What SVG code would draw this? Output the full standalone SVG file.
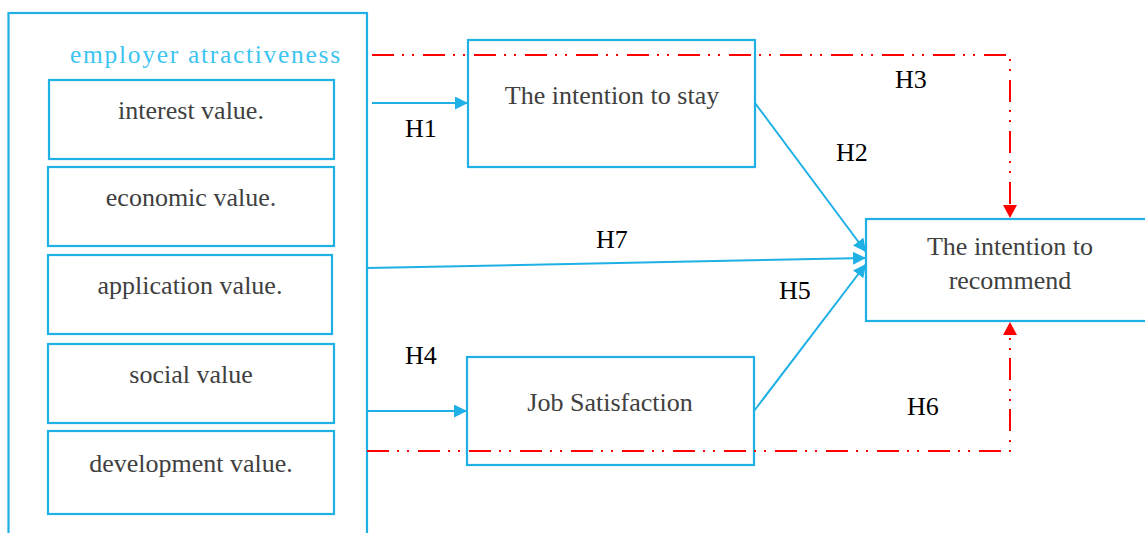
<svg xmlns="http://www.w3.org/2000/svg" width="1145" height="533" viewBox="0 0 1145 533">
<style>
.box{fill:#fff;stroke:#1fb0e6;stroke-width:2.2}
.t{font-family:"Liberation Serif","Times New Roman","DejaVu Serif",serif;font-size:26px;fill:#404040;text-anchor:middle}
.h{font-family:"Liberation Serif","Times New Roman","DejaVu Serif",serif;font-size:26px;fill:#000}
.ti{font-family:"Liberation Serif","Times New Roman","DejaVu Serif",serif;font-size:25.5px;fill:#3cc4f2;letter-spacing:1.7px}
.bl{stroke:#1fb0e6;stroke-width:2;fill:none}
.rd{stroke:#ff0000;stroke-width:2;fill:none;stroke-dasharray:22 8 2 8 2 9}
</style>
<defs>
<marker id="ab" viewBox="0 0 13 13" refX="13" refY="6.5" markerWidth="13" markerHeight="13" markerUnits="userSpaceOnUse" orient="auto"><path d="M0,0 L13,6.5 L0,13 z" fill="#1fb0e6"/></marker>
</defs>
<g id="employer">
<rect class="box" x="8.5" y="13" width="358.5" height="540"/>
<text class="ti" x="70" y="63">employer atractiveness</text>
</g>
<g id="interest"><rect class="box" x="49" y="80" width="285" height="79"/><text class="t" x="191" y="119">interest value.</text></g>
<g id="economic"><rect class="box" x="48" y="167" width="286" height="79"/><text class="t" x="191" y="206">economic value.</text></g>
<g id="application"><rect class="box" x="48" y="255" width="284" height="79"/><text class="t" x="190" y="294">application value.</text></g>
<g id="social"><rect class="box" x="48" y="344" width="286" height="79"/><text class="t" x="191" y="383">social value</text></g>
<g id="development"><rect class="box" x="48" y="431" width="286" height="83"/><text class="t" x="191" y="472">development value.</text></g>
<g id="stay"><rect class="box" x="468" y="40" width="287" height="127"/><text class="t" x="612" y="104">The intention to stay</text></g>
<g id="satisfaction"><rect class="box" x="467" y="357" width="287" height="108"/><text class="t" x="610" y="411">Job Satisfaction</text></g>
<g id="recommend"><rect class="box" x="866" y="219" width="290" height="102"/><text class="t" x="1010" y="255">The intention to</text><text class="t" x="1010" y="289">recommend</text></g>
<g id="connectors">
<path class="rd" d="M372,55 H1010 V205"/>
<path d="M1003,205 L1017,205 L1010,218 z" fill="#ff0000"/>
<path class="rd" d="M367,451 H1010 V335"/>
<path d="M1003,335 L1017,335 L1010,322 z" fill="#ff0000"/>
<line class="bl" x1="372" y1="103" x2="468" y2="103" marker-end="url(#ab)"/>
<line class="bl" x1="367" y1="411" x2="467" y2="411" marker-end="url(#ab)"/>
<line class="bl" x1="367" y1="268" x2="866" y2="258" marker-end="url(#ab)"/>
<line class="bl" x1="755" y1="103" x2="866" y2="252" marker-end="url(#ab)"/>
<line class="bl" x1="754" y1="411" x2="866" y2="264" marker-end="url(#ab)"/>
</g>
<g id="labels">
<text class="h" x="405" y="137">H1</text>
<text class="h" x="836" y="161">H2</text>
<text class="h" x="895" y="88">H3</text>
<text class="h" x="405" y="364">H4</text>
<text class="h" x="779" y="299">H5</text>
<text class="h" x="907" y="415">H6</text>
<text class="h" x="596" y="248">H7</text>
</g>
</svg>
